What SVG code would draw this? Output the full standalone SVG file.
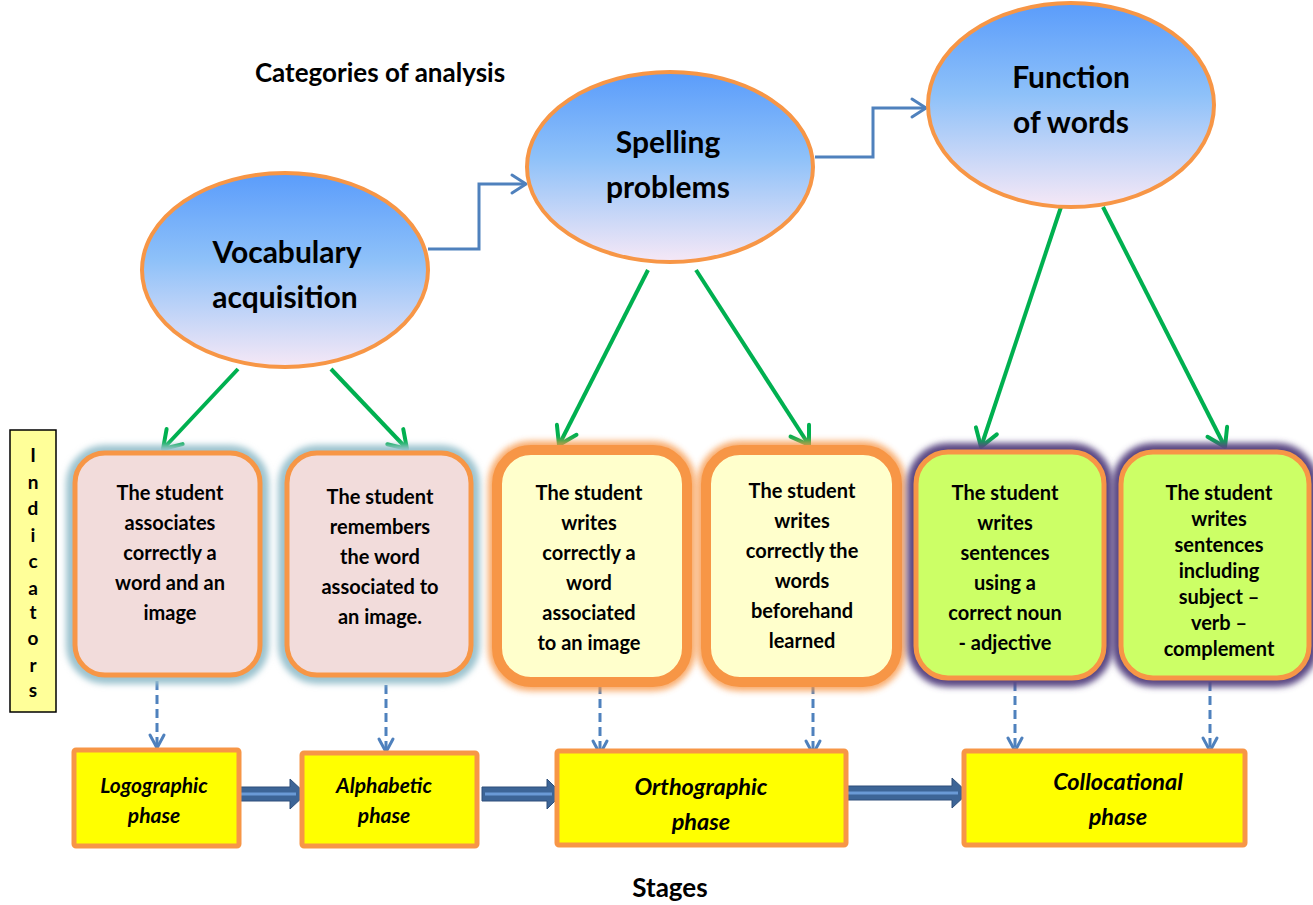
<svg xmlns="http://www.w3.org/2000/svg" width="1313" height="905" viewBox="0 0 1313 905">
  <defs>
    <style>
      text { font-family: Lato, "Open Sans", "Liberation Sans", sans-serif; font-weight: bold; fill: #000; text-anchor: middle; }
      .title { font-size: 26px; }
      .cat { font-size: 30px; }
      .ind { font-size: 20px; }
      .vert { font-size: 19px; }
      .phase { font-size: 21px; font-style: italic; }
      .phase-lg { font-size: 23.5px; font-style: italic; }
      .ellipse { fill: url(#skyGrad); stroke: #f79646; stroke-width: 4; }
      .flow { fill: none; stroke: #4f81bd; stroke-width: 3; marker-end: url(#openBlue); }
      .green { fill: none; stroke: #00b050; stroke-width: 4; marker-end: url(#openGreen); }
      .dash { fill: none; stroke: #4f81bd; stroke-width: 3; stroke-dasharray: 9 5; marker-end: url(#openBlueS); }
      .stage { fill: #ffff00; stroke: #f79646; stroke-width: 5; }
      .pink { fill: #f2dcdb; stroke: #f79646; stroke-width: 5; }
      .cream { fill: #ffffcc; stroke: #f79646; stroke-width: 10; }
      .lime { fill: #ccff66; stroke: #f79646; stroke-width: 5; }
      .halo-blue { fill: none; stroke: #9cc3cf; stroke-width: 14; filter: url(#soft); }
      .halo-orange { fill: none; stroke: #f79646; stroke-width: 18; filter: url(#soft); opacity: 0.8; }
      .halo-purple { fill: none; stroke: #5a4683; stroke-width: 14; filter: url(#soft); }
      .block { fill: #3d6597; stroke: #2f4f7a; stroke-width: 1; }
      .block-hi { stroke: #6a9ad6; stroke-width: 3; }
    </style>
    <linearGradient id="skyGrad" x1="0" y1="0" x2="0" y2="1">
      <stop offset="0" stop-color="#5a9cfb"/>
      <stop offset="0.45" stop-color="#8ec1f9"/>
      <stop offset="1" stop-color="#f6e8f6"/>
    </linearGradient>
    <filter id="soft" x="-20%" y="-20%" width="140%" height="140%">
      <feGaussianBlur stdDeviation="3"/>
    </filter>
    <marker id="openBlue" markerUnits="userSpaceOnUse" viewBox="-16 -12 20 24" refX="0" refY="0" markerWidth="20" markerHeight="24" orient="auto" overflow="visible">
      <path d="M -14 -9 L 0 0 L -14 9" fill="none" stroke="#4f81bd" stroke-width="3" stroke-linecap="round" stroke-linejoin="round"/>
    </marker>
    <marker id="openBlueS" markerUnits="userSpaceOnUse" viewBox="-16 -12 20 24" refX="0" refY="0" markerWidth="20" markerHeight="24" orient="auto" overflow="visible">
      <path d="M -13 -7 L 0 0 L -13 7" fill="none" stroke="#4f81bd" stroke-width="3" stroke-linecap="round" stroke-linejoin="round"/>
    </marker>
    <marker id="openGreen" markerUnits="userSpaceOnUse" viewBox="-20 -15 24 30" refX="0" refY="0" markerWidth="24" markerHeight="30" orient="auto" overflow="visible">
      <path d="M -17 -11 L 0 0 L -17 11" fill="none" stroke="#00b050" stroke-width="4" stroke-linecap="round" stroke-linejoin="round"/>
    </marker>
  </defs>

  <rect width="1313" height="905" fill="#ffffff"/>

  <text class="title" x="380" y="82">Categories of analysis</text>

  <!-- connectors -->
  <g id="connectors">
    <path class="flow" d="M 428 249 H 479 V 184 H 526"/>
    <path class="flow" d="M 815 157 H 873 V 108 H 926"/>

    <line class="green" x1="238" y1="369" x2="163" y2="449"/>
    <line class="green" x1="331" y1="369" x2="407" y2="449"/>
    <line class="green" x1="648" y1="270" x2="559" y2="445"/>
    <line class="green" x1="696" y1="270" x2="809" y2="445"/>
    <line class="green" x1="1061" y1="207" x2="981" y2="447"/>
    <line class="green" x1="1103" y1="207" x2="1225" y2="447"/>

    <line class="dash" x1="157" y1="681" x2="157" y2="748"/>
    <line class="dash" x1="386" y1="685" x2="386" y2="752"/>
    <line class="dash" x1="600" y1="685" x2="600" y2="754"/>
    <line class="dash" x1="813" y1="685" x2="813" y2="754"/>
    <line class="dash" x1="1015" y1="682" x2="1015" y2="751"/>
    <line class="dash" x1="1210" y1="682" x2="1210" y2="751"/>

    <!-- block arrows between stages -->
    <g>
      <polygon class="block" points="237,787 290,787 290,779 306,794 290,809 290,801 237,801"/>
      <line class="block-hi" x1="240" y1="794" x2="296" y2="794"/>
    </g>
    <g>
      <polygon class="block" points="482,787 547,787 547,779 562,794 547,809 547,801 482,801"/>
      <line class="block-hi" x1="485" y1="794" x2="552" y2="794"/>
    </g>
    <g>
      <polygon class="block" points="843,786 952,786 952,778 968,793 952,808 952,800 843,800"/>
      <line class="block-hi" x1="846" y1="793" x2="958" y2="793"/>
    </g>
  </g>

  <!-- categories -->
  <g id="cat-vocabulary">
    <ellipse class="ellipse" cx="285" cy="270" rx="143" ry="97"/>
    <text class="cat" x="287" y="263">Vocabulary</text>
    <text class="cat" x="285" y="308">acquisition</text>
  </g>
  <g id="cat-spelling">
    <ellipse class="ellipse" cx="670" cy="167" rx="143" ry="95"/>
    <text class="cat" x="668" y="153">Spelling</text>
    <text class="cat" x="668" y="198">problems</text>
  </g>
  <g id="cat-function">
    <ellipse class="ellipse" cx="1071" cy="105" rx="143" ry="102"/>
    <text class="cat" x="1071" y="88">Function</text>
    <text class="cat" x="1071" y="133">of words</text>
  </g>

  <!-- indicators label -->
  <g id="indicators-label">
    <rect x="10" y="430" width="46" height="282" fill="#ffff99" stroke="#000" stroke-width="1.5"/>
    <text class="vert" x="33" y="462">I</text>
    <text class="vert" x="33" y="489">n</text>
    <text class="vert" x="33" y="515">d</text>
    <text class="vert" x="33" y="542">i</text>
    <text class="vert" x="33" y="568">c</text>
    <text class="vert" x="33" y="595">a</text>
    <text class="vert" x="33" y="619">t</text>
    <text class="vert" x="33" y="645">o</text>
    <text class="vert" x="33" y="672">r</text>
    <text class="vert" x="33" y="697">s</text>
  </g>

  <!-- indicators -->
  <g id="ind-1">
    <rect class="halo-blue" x="73" y="452" width="189" height="225" rx="32"/>
    <rect class="pink" x="75" y="453" width="185" height="222" rx="30"/>
    <text class="ind" x="170" y="500">The student</text>
    <text class="ind" x="170" y="530">associates</text>
    <text class="ind" x="170" y="560">correctly a</text>
    <text class="ind" x="170" y="590">word and an</text>
    <text class="ind" x="170" y="620">image</text>
  </g>
  <g id="ind-2">
    <rect class="halo-blue" x="285" y="452" width="188" height="225" rx="32"/>
    <rect class="pink" x="287" y="453" width="184" height="222" rx="30"/>
    <text class="ind" x="380" y="504">The student</text>
    <text class="ind" x="380" y="534">remembers</text>
    <text class="ind" x="380" y="564">the word</text>
    <text class="ind" x="380" y="594">associated to</text>
    <text class="ind" x="380" y="624">an image.</text>
  </g>
  <g id="ind-3">
    <rect class="halo-orange" x="497" y="450" width="190" height="232" rx="34"/>
    <rect class="cream" x="497" y="450" width="190" height="232" rx="34"/>
    <text class="ind" x="589" y="500">The student</text>
    <text class="ind" x="589" y="530">writes</text>
    <text class="ind" x="589" y="560">correctly a</text>
    <text class="ind" x="589" y="590">word</text>
    <text class="ind" x="589" y="620">associated</text>
    <text class="ind" x="589" y="650">to an image</text>
  </g>
  <g id="ind-4">
    <rect class="halo-orange" x="706" y="450" width="191" height="232" rx="34"/>
    <rect class="cream" x="706" y="450" width="191" height="232" rx="34"/>
    <text class="ind" x="802" y="498">The student</text>
    <text class="ind" x="802" y="528">writes</text>
    <text class="ind" x="802" y="558">correctly the</text>
    <text class="ind" x="802" y="588">words</text>
    <text class="ind" x="802" y="618">beforehand</text>
    <text class="ind" x="802" y="648">learned</text>
  </g>
  <g id="ind-5">
    <rect class="halo-purple" x="914" y="450" width="192" height="230" rx="34"/>
    <rect class="lime" x="916" y="452" width="188" height="226" rx="32"/>
    <text class="ind" x="1005" y="500">The student</text>
    <text class="ind" x="1005" y="530">writes</text>
    <text class="ind" x="1005" y="560">sentences</text>
    <text class="ind" x="1005" y="590">using a</text>
    <text class="ind" x="1005" y="620">correct noun</text>
    <text class="ind" x="1005" y="650">- adjective</text>
  </g>
  <g id="ind-6">
    <rect class="halo-purple" x="1119" y="450" width="192" height="230" rx="34"/>
    <rect class="lime" x="1121" y="452" width="188" height="226" rx="32"/>
    <text class="ind" x="1219" y="500">The student</text>
    <text class="ind" x="1219" y="526">writes</text>
    <text class="ind" x="1219" y="552">sentences</text>
    <text class="ind" x="1219" y="578">including</text>
    <text class="ind" x="1219" y="604">subject –</text>
    <text class="ind" x="1219" y="630">verb –</text>
    <text class="ind" x="1219" y="656">complement</text>
  </g>

  <!-- stages -->
  <g id="stage-logographic">
    <rect class="stage" x="74" y="750" width="165" height="96" rx="2"/>
    <text class="phase" x="154" y="793">Logographic</text>
    <text class="phase" x="154" y="823">phase</text>
  </g>
  <g id="stage-alphabetic">
    <rect class="stage" x="302" y="753" width="175" height="93" rx="2"/>
    <text class="phase" x="384" y="793">Alphabetic</text>
    <text class="phase" x="384" y="823">phase</text>
  </g>
  <g id="stage-orthographic">
    <rect class="stage" x="557" y="751" width="289" height="94" rx="2"/>
    <text class="phase-lg" x="701" y="795">Orthographic</text>
    <text class="phase-lg" x="701" y="830">phase</text>
  </g>
  <g id="stage-collocational">
    <rect class="stage" x="964" y="751" width="281" height="94" rx="2"/>
    <text class="phase-lg" x="1118" y="790">Collocational</text>
    <text class="phase-lg" x="1118" y="825">phase</text>
  </g>

  <text class="title" x="670" y="897">Stages</text>
</svg>
